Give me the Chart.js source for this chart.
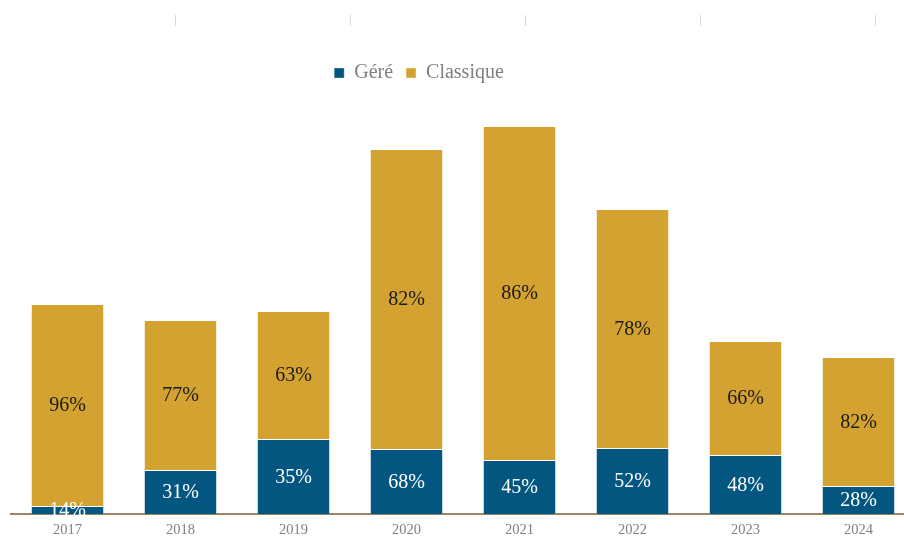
<!DOCTYPE html>
<html>
<head>
<meta charset="utf-8">
<script src="https://cdn.jsdelivr.net/npm/chart.js@4.4.1/dist/chart.umd.min.js"></script>
<style>
  html, body { margin: 0; padding: 0; background: #ffffff; overflow: hidden; width: 904px; height: 537px; }
  #wrap { position: absolute; left: 0; top: 0; width: 920px; height: 537px; }
</style>
</head>
<body>
<div id="wrap"><canvas id="c"></canvas></div>
<script>
// ---- data ----
const years = ['2017', '2018', '2019', '2020', '2021', '2022', '2023', '2024'];
const gereValues = [8, 44, 75, 65, 54, 66, 59, 28];
const classiqueValues = [202, 150, 128, 300, 334, 239, 114, 129];
const gereLabels = ['14%', '31%', '35%', '68%', '45%', '52%', '48%', '28%'];
const classiqueLabels = ['96%', '77%', '63%', '82%', '86%', '78%', '66%', '82%'];
const topTickStep = 175;

const SERIF = '"Liberation Serif", "Times New Roman", serif';

const barLabelPlugin = {
  id: 'barLabels',
  afterDatasetsDraw(chart) {
    const ctx = chart.ctx;
    ctx.save();
    ctx.font = '20px ' + SERIF;
    ctx.textAlign = 'center';
    ctx.textBaseline = 'middle';
    chart.data.datasets.forEach((ds, di) => {
      const meta = chart.getDatasetMeta(di);
      meta.data.forEach((bar, i) => {
        ctx.fillStyle = ds.labelColor;
        ctx.fillText(ds.pctLabels[i], bar.x, (bar.y + bar.base) / 2 + 1);
      });
    });
    ctx.restore();
  }
};

const legendShift = {
  id: 'legendShift',
  afterLayout(chart) {
    const lg = chart.legend;
    if (lg) {
      lg.left -= 44; lg.right -= 44;
      lg.top += 24; lg.bottom += 24;
    }
  }
};

new Chart(document.getElementById('c'), {
  type: 'bar',
  data: {
    labels: years,
    datasets: [
      { label: 'Géré', data: gereValues, backgroundColor: '#02567F', borderColor: 'rgba(255,255,255,0.3)', borderWidth: 1,
        pctLabels: gereLabels, labelColor: '#ffffff' },
      { label: 'Classique', data: classiqueValues, backgroundColor: '#D4A231', borderColor: 'rgba(255,255,255,0.4)', borderWidth: 1,
        pctLabels: classiqueLabels, labelColor: '#1a1a1a' }
    ]
  },
  options: {
    responsive: true,
    maintainAspectRatio: false,
    animation: false,
    layout: { padding: { left: 11, right: 5, top: 15, bottom: 0 } },
    datasets: { bar: { categoryPercentage: 1, barPercentage: 0.65 } },
    plugins: {
      legend: {
        position: 'top',
        labels: {
          boxWidth: 10, boxHeight: 10, padding: 13,
          color: '#7f7f7f',
          font: { family: SERIF, size: 20 }
        }
      },
      tooltip: { enabled: false }
    },
    scales: {
      x: {
        stacked: true,
        grid: { display: false, drawTicks: false },
        border: { display: true, color: '#9B8562', width: 2 },
        ticks: { color: '#808080', font: { family: SERIF, size: 14.5, lineHeight: 1 }, padding: 9 },
        afterFit(scale) { scale.height = 23; }
      },
      xTop: {
        type: 'linear',
        position: 'top',
        weight: 1500,
        offset: false,
        bounds: 'data',
        min: 11, max: 915,
        afterBuildTicks(s) {
          const lo = s.options.min, hi = s.options.max;
          const list = [];
          for (let v = topTickStep; v < hi; v += topTickStep) { if (v > lo) list.push({ value: v }); }
          s.ticks = list;
          s.min = lo; s.max = hi;
        },
        grid: {
          display: true, offset: false, drawOnChartArea: false, drawTicks: true, tickLength: 11, lineWidth: 1,
          color: '#d9d9d9'
        },
        border: { display: false },
        ticks: { display: false, stepSize: topTickStep, includeBounds: false }
      },
      y: {
        stacked: true,
        display: false,
        min: 0,
        max: 445
      }
    }
  },
  plugins: [barLabelPlugin, legendShift]
});
</script>
</body>
</html>
